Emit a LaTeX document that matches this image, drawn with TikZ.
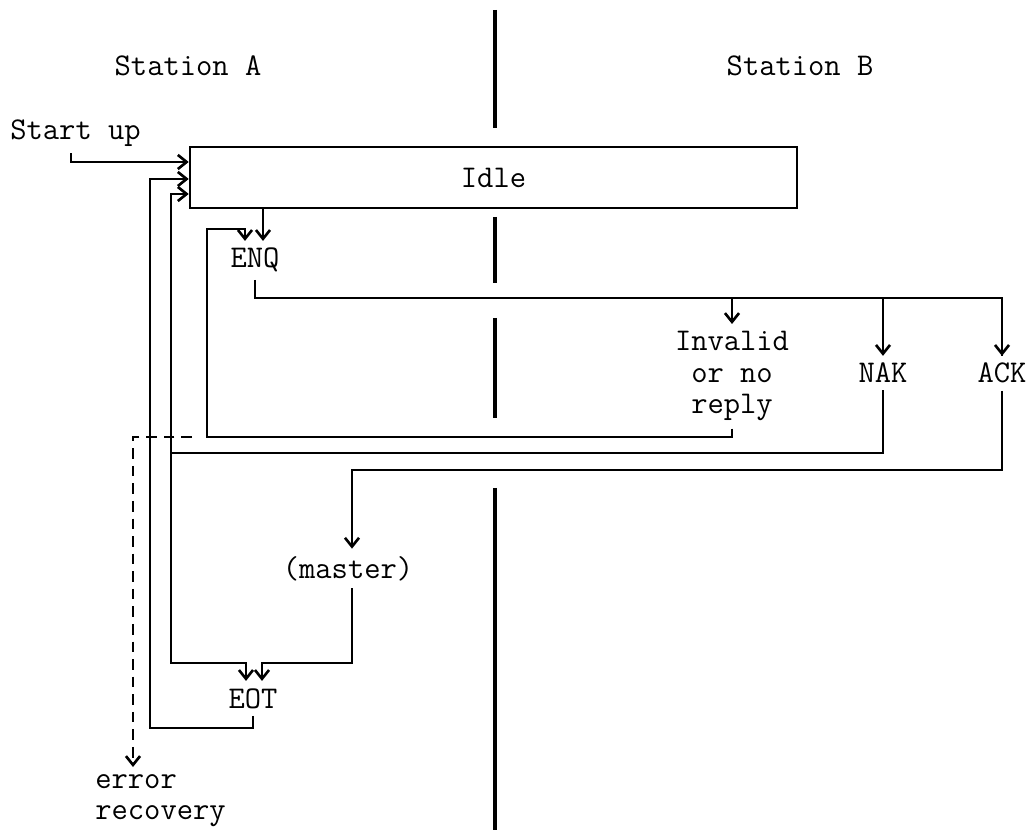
\documentclass[tikz,border=0pt]{standalone}
\usepackage{fontspec}
\usepackage{tikz}
\usetikzlibrary{arrows.meta}

\begin{document}
\begin{tikzpicture}[x=0.02cm, y=-0.02cm,
  every node/.style={font=\ttfamily\fontsize{18}{18}\selectfont, inner sep=4pt},
  wire/.style={line width=1.5pt},
  flow/.style={wire, -{Straight Barb[length=5pt,width=8pt]}},
  errflow/.style={flow, dash pattern=on 6pt off 4pt}]
\useasboundingbox (0,0) rectangle (1030,830);

% the two stations and the line between them
\node[anchor=base] (staA) at (188,76) {Station A};
\node[anchor=base] (staB) at (800,76) {Station B};
\draw[line width=2pt] (495,10) -- (495,128) (495,217) -- (495,283) (495,318) -- (495,418) (495,488) -- (495,830);

\node[anchor=base west, inner sep=0pt] (start) at (10,140) {Start up};
\node[draw, line width=1.5pt, minimum width=12.14cm, minimum height=1.22cm] (idle) at (493.5,177.5) {Idle};
\node[anchor=base] (enq) at (255,268) {ENQ};
\node[anchor=north, align=center] (inval) at (732,324) {Invalid\\or no\\reply};
\node[anchor=base] (nak) at (883,383) {NAK};
\node[anchor=base] (ack) at (1002,383) {ACK};
\node[anchor=base] (master) at (348,578) {(master)};
\node[anchor=base] (eot) at (253,708) {EOT};
\node[anchor=north west, align=left] (err) at (88,767) {error\\recovery};

\coordinate (inStart) at (idle.west |- 0,162);
\coordinate (inEot) at (idle.west |- 0,179);
\coordinate (inNak) at (idle.west |- 0,194);
\coordinate (retry) at (207,437);

\draw[flow] (start.south -| 71,0) ++(0,6) |- (inStart);
\draw[flow] (idle.south -| 263,0) -- (enq.north -| 263,0);

% replies to ENQ
\draw[wire] (enq.south) |- (ack.north |- 0,298) -- (ack.north);
\draw[flow] (ack.north |- 0,298) -- (ack.north);
\draw[flow] (inval.north |- 0,298) -- (inval.north);
\draw[flow] (nak.north |- 0,298) -- (nak.north);

\draw[flow] (inval.south) |- (retry) |- (245,229) -- (enq.north -| 245,0);
\draw[errflow] (retry) ++(-15,0) -| (err.north -| 133,0);

\draw[wire] (nak.south) |- (171,453);
\draw[flow] (171,453) |- (inNak);
\draw[flow] (171,453) |- (246,663) -- (eot.north -| 246,0);

\draw[flow] (ack.south) |- (352,470) -- (master.north -| 352,0);
\draw[flow] (master.south -| 352,0) |- (262,663) -- (eot.north -| 262,0);

\draw[flow] (eot.south) |- (150,728) |- (inEot);
\end{tikzpicture}
\end{document}
